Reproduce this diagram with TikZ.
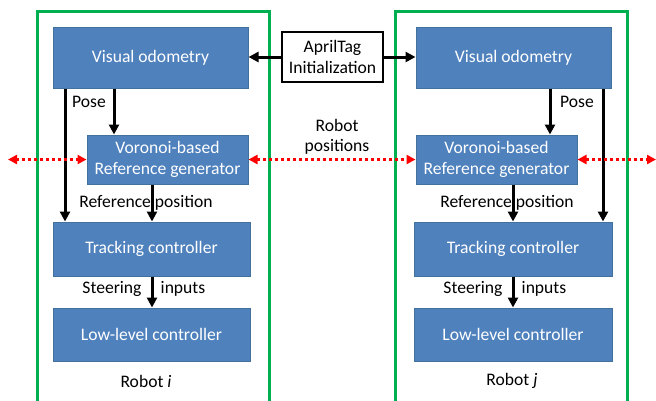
\documentclass[tikz,border=0pt]{standalone}
\usepackage{fontspec}
\setmainfont{Carlito}
\usetikzlibrary{arrows.meta}
\definecolor{boxblue}{RGB}{79,129,189}
\definecolor{boxedge}{RGB}{65,113,156}
\definecolor{frgreen}{RGB}{0,176,80}
\tikzset{
  blk/.style={rectangle, fill=boxblue, draw=boxedge, line width=1pt, text=white, align=center, inner sep=0pt},
  lbl/.style={text=black, align=center, inner sep=0pt},
  arr/.style={line width=3pt, -{Triangle[length=10pt,width=10pt]}},
  darr/.style={line width=2.5pt, dash pattern=on 3pt off 3pt, red, {Triangle[length=9pt,width=9pt]}-{Triangle[length=9pt,width=9pt]}},
  frame/.style={line width=3pt, frgreen},
}
\begin{document}
\begin{tikzpicture}[x=1pt,y=-1pt,font=\fontsize{17.6}{20.5}\selectfont]
\useasboundingbox (0,0) rectangle (656,400);
% frames
\draw[frame] (37,410) -- (37,11) -- (269,11) -- (269,410);
\draw[frame] (395,410) -- (395,11) -- (627,11) -- (627,410);
% robot i
\node[blk, minimum width=195pt, minimum height=61pt] (vol) at (150.5,57.5) {Visual odometry};
\node[blk, minimum width=161pt, minimum height=49pt] (vorl) at (167.5,159.5) {Voronoi-based\\Reference generator};
\node[blk, minimum width=197pt, minimum height=54pt] (trl) at (151.5,249) {Tracking controller};
\node[blk, minimum width=197pt, minimum height=53pt] (lol) at (151.5,334.5) {Low-level controller};
% robot j
\node[blk, minimum width=195pt, minimum height=61pt] (vor) at (513.5,57.5) {Visual odometry};
\node[blk, minimum width=161pt, minimum height=49pt] (vorr) at (496.5,159.5) {Voronoi-based\\Reference generator};
\node[blk, minimum width=198pt, minimum height=54pt] (trr) at (513,249) {Tracking controller};
\node[blk, minimum width=198pt, minimum height=53pt] (lor) at (513,334.5) {Low-level controller};
% april tag
\node[rectangle, draw=black, line width=1.5pt, fill=white, align=center, inner sep=0pt, minimum width=101pt, minimum height=50pt] (tag) at (332.5,57) {AprilTag\\Initialization};
% labels
\node[lbl] (posel) at (89,102) {Pose};
\node[lbl] (poser) at (577,102) {Pose};
\node[lbl] (refl) at (146,203) {Reference position};
\node[lbl] (refr) at (507,203) {Reference position};
\node[lbl] (stl) at (112,289) {Steering};
\node[lbl] (inl) at (183,289) {inputs};
\node[lbl] (str) at (473,289) {Steering};
\node[lbl] (inr) at (544,289) {inputs};
\node[lbl] (rpos) at (337,137) {Robot\\positions};
\node[lbl] (robi) at (146,381) {Robot \textit{i}};
\node[lbl] (robj) at (512,381) {Robot \textit{j}};
% black arrows
\draw[arr] (tag.west) -- (vol.east |- tag.west);
\draw[arr] (tag.east) -- (vor.west |- tag.east);
\draw[arr] (vol.south -| 114,0) -- (vorl.north -| 114,0);
\draw[arr] (vol.south -| 65,0) -- (trl.north -| 65,0);
\draw[arr] (vorl.south -| 152,0) -- (trl.north -| 152,0);
\draw[arr] (trl.south -| 152,0) -- (lol.north -| 152,0);
\draw[arr] (vor.south -| 550,0) -- (vorr.north -| 550,0);
\draw[arr] (vor.south -| 603,0) -- (trr.north -| 603,0);
\draw[arr] (vorr.south -| 513,0) -- (trr.north -| 513,0);
\draw[arr] (trr.south -| 513,0) -- (lor.north -| 513,0);
% red dotted
\coordinate (lend) at (8,159.5);
\coordinate (rend) at (656,159.5);
\draw[darr] (lend) -- (vorl.west);
\draw[darr] (vorl.east) -- (vorr.west);
\draw[darr] (vorr.east) -- (rend);
\end{tikzpicture}
\end{document}
